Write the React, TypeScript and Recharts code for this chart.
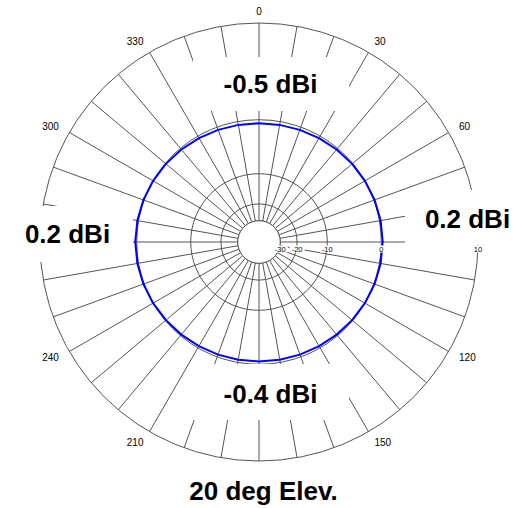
import React from 'react';
import { RadarChart, Radar, PolarGrid, PolarAngleAxis, PolarRadiusAxis } from 'recharts';

// Azimuth angles (degrees, clockwise from north) and pattern gain in dBi
const ANGLES = [
  0, 10, 20, 30, 40, 50, 60, 70, 80, 90, 100, 110, 120, 130, 140, 150, 160, 170,
  180, 190, 200, 210, 220, 230, 240, 250, 260, 270, 280, 290, 300, 310, 320, 330, 340, 350,
];
const GAIN_DBI = [
  -0.5, -0.48, -0.42, -0.33, -0.22, -0.1, 0.0, 0.1, 0.17, 0.2, 0.17, 0.1, 0.0, -0.1, -0.2, -0.28, -0.35, -0.39,
  -0.4, -0.39, -0.35, -0.28, -0.2, -0.1, 0.0, 0.1, 0.17, 0.2, 0.17, 0.1, 0.0, -0.1, -0.22, -0.33, -0.42, -0.48,
];

// dB rings of the log-periodic grid and the azimuth labels shown round the rim
const DB_RINGS = [-30, -20, -10, 0, 10];
const ANGLE_LABELS = [0, 30, 60, 120, 150, 210, 240, 300, 330];

// Directions whose gain is printed in large type
const CARDINAL_ANGLES = [0, 90, 180, 270];
const TITLE = '20 deg Elev.';

// ARRL log-periodic scale: each 2 dB step shrinks the radius by 0.89
const MAX_DB = 10;
const toRadial = (db: number) => Math.pow(0.89, (MAX_DB - db) / 2);

const OUTER_R = 219;

// Everything inside the lowest ring is left blank (hub)
const HUB = toRadial(DB_RINGS[0]);

const data = ANGLES.map((angle, i) => ({ angle, r: toRadial(GAIN_DBI[i]), hub: HUB }));
const ringTicks = DB_RINGS.map(toRadial);

const FONT = '"Liberation Sans", Arial, Helvetica, sans-serif';
const GRID = '#555';

const gainText = (angle: number) => {
  const g = GAIN_DBI[ANGLES.indexOf(angle)];
  return `${g.toFixed(1)} dBi`;
};

const AngleTick = (props: any) => {
  const { x, y, textAnchor, payload } = props;
  if (!ANGLE_LABELS.includes(Number(payload.value))) return null;
  return (
    <text x={x} y={y} dy="0.35em" textAnchor={textAnchor} fontSize={10} fill="#000" fontFamily={FONT}>
      {payload.value}
    </text>
  );
};

const RingTick = (props: any) => {
  const { x, y, payload } = props;
  const idx = ringTicks.findIndex((t) => Math.abs(t - payload.value) < 1e-9);
  if (idx < 0) return null;
  const label = String(DB_RINGS[idx]);
  const w = label.length * 4.3;
  return (
    <g>
      <rect x={x - w / 2 - 1} y={y + 3.5} width={w + 2} height={7} fill="#fff" />
      <text x={x} y={y + 9.5} textAnchor="middle" fontSize={7.5} fill="#000" fontFamily={FONT}>
        {label}
      </text>
    </g>
  );
};

// Boxed gain annotations (white backing hides the grid underneath)
const BOXES = [
  { angle: CARDINAL_ANGLES[0], tx: 270.5, ty: 93, box: [193, 57, 156, 54] },
  { angle: CARDINAL_ANGLES[1], tx: 467.5, ty: 228, box: [405, 190, 120, 55] },
  { angle: CARDINAL_ANGLES[2], tx: 270.5, ty: 403, box: [193, 364, 156, 56] },
  { angle: CARDINAL_ANGLES[3], tx: 67.5, ty: 243, box: [0, 206, 133, 56] },
];

export default function App() {
  return (
    <div style={{ position: 'absolute', left: 0, top: 0, width: 525, height: 508, background: '#fff' }}>
      <RadarChart
        width={525}
        height={508}
        data={data}
        cx={259}
        cy={242}
        innerRadius={0}
        outerRadius={OUTER_R}
        startAngle={90}
        endAngle={-270}
        margin={{ top: 0, right: 0, bottom: 0, left: 0 }}
        style={{ fontFamily: FONT }}
      >
        <PolarGrid gridType="circle" stroke={GRID} strokeWidth={1} strokeOpacity={1} />
        <PolarAngleAxis
          dataKey="angle"
          axisLine={false}
          tickLine={false}
          tickSize={12}
          tick={AngleTick}
        />
        <Radar
          dataKey="hub"
          stroke={GRID}
          strokeWidth={1}
          fill="#fff"
          fillOpacity={1}
          dot={false}
          isAnimationActive={false}
        />
        <Radar
          dataKey="r"
          stroke="#0000ff"
          strokeWidth={2}
          fill="none"
          fillOpacity={0}
          dot={false}
          isAnimationActive={false}
        />
        <PolarRadiusAxis
          angle={0}
          type="number"
          domain={[0, 1]}
          ticks={ringTicks}
          axisLine={false}
          tick={RingTick}
          orientation="middle"
        />
      </RadarChart>
      <svg
        width={525}
        height={508}
        style={{ position: 'absolute', left: 0, top: 0, pointerEvents: 'none' }}
      >
        {BOXES.map((b) => (
          <g key={b.angle}>
            <rect x={b.box[0]} y={b.box[1]} width={b.box[2]} height={b.box[3]} fill="#fff" />
            <text x={b.tx} y={b.ty} textAnchor="middle" fontSize={26} fontWeight="bold" fill="#000" fontFamily={FONT}>
              {gainText(b.angle)}
            </text>
          </g>
        ))}
        <text x={263.5} y={500} textAnchor="middle" fontSize={26} fontWeight="bold" fill="#000" fontFamily={FONT}>
          {TITLE}
        </text>
      </svg>
    </div>
  );
}
